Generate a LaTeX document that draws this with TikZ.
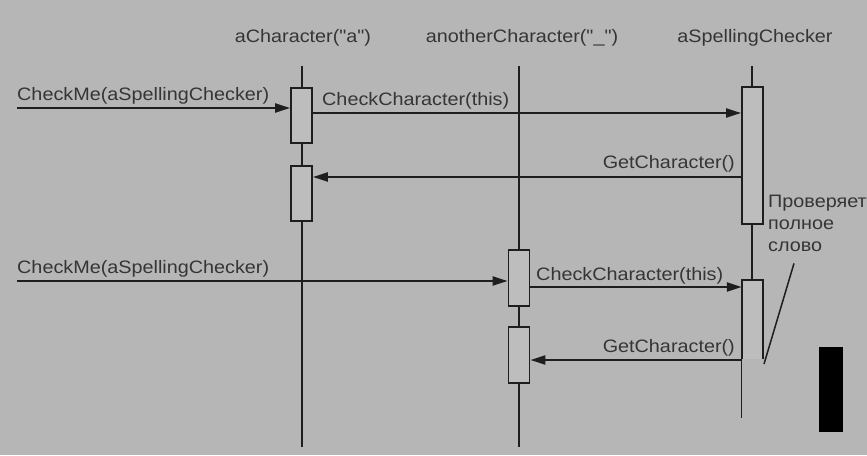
\documentclass[tikz,border=0pt]{standalone}
\usepackage{fontspec}
\newfontfamily\diafont{Liberation Sans}[FakeStretch=1.1]
\usetikzlibrary{arrows.meta}
\definecolor{paper}{RGB}{182,182,182}
\definecolor{ink}{RGB}{30,30,30}

\begin{document}
\begin{tikzpicture}[x=1pt, y=-1pt,
    lbl/.style={font=\diafont\fontsize{18}{22}\selectfont, text=ink!90, inner sep=0pt, align=left},
    lifeline/.style={draw=ink, line width=1.8pt},
    actbox/.style={rectangle, draw=ink, line width=1.8pt, fill=paper!90!white, minimum width=21pt, inner sep=0pt},
    openbox/.style={rectangle, fill=paper!90!white, minimum width=21pt, inner sep=0pt},
    msg/.style={draw=ink, line width=2.2pt, -{Triangle[length=15pt,width=9pt]}},
    leader/.style={draw=ink, line width=1.5pt}
]

    % --- Page ---
    \useasboundingbox (0,0) rectangle (867,455);
    \fill[paper] (0,0) rectangle (867,455);

    % --- Object Headers ---
    \node[lbl, anchor=base] (hA) at (303,42) {aCharacter("a")};
    \node[lbl, anchor=base] (hB) at (522,42) {anotherCharacter("\_")};
    \node[lbl, anchor=base] (hS) at (755,42) {aSpellingChecker};

    % --- Lifelines ---
    \coordinate (topA) at (302,66);  \coordinate (endA) at (302,447);
    \coordinate (topB) at (519,66);  \coordinate (endB) at (519,447);
    \coordinate (topS) at (752,66);  \coordinate (endS) at (752,280);
    \draw[lifeline] (topA) -- (endA);
    \draw[lifeline] (topB) -- (endB);
    \draw[lifeline] (topS) -- (endS);

    % --- Activation Boxes ---
    \node[actbox, minimum height=55pt] (a1) at (301.5,115.5) {};
    \node[actbox, minimum height=55pt] (a2) at (301.5,193.5) {};
    \node[actbox, minimum height=137pt] (s1) at (752.5,155.5) {};
    \node[actbox, minimum height=56pt] (b1) at (519,278) {};
    \node[actbox, minimum height=56pt] (b2) at (519,355) {};
    \node[openbox, minimum height=79pt] (s2) at (752.5,319.5) {};
    \draw[lifeline] (s2.south east) -- (s2.north east) -- (s2.north west) -- (s2.south west);
    \draw[draw=ink, line width=0.8pt] (s2.south west) -- ++(0,59);

    % --- Messages ---
    \coordinate (in1) at (17,108);
    \coordinate (in2) at (17,281);
    \coordinate (r1) at (0,113);
    \coordinate (r2) at (0,177);
    \coordinate (r3) at (0,287);
    \coordinate (r4) at (0,360);
    \draw[msg] (in1) -- (in1 -| a1.west);
    \draw[msg] (a1.east |- r1) -- (s1.west |- r1);
    \draw[msg] (s1.west |- r2) -- (a2.east |- r2);
    \draw[msg] (in2) -- (in2 -| b1.west);
    \draw[msg] (b1.east |- r3) -- (s2.west |- r3);
    \draw[msg] (s2.west |- r4) -- (b2.east |- r4);

    % --- Message Labels ---
    \node[lbl, anchor=base west] (m1) at (17,100) {CheckMe(aSpellingChecker)};
    \node[lbl, anchor=base west] (m2) at (322,105) {CheckCharacter(this)};
    \node[lbl, anchor=base east] (m3) at (735,168) {GetCharacter()};
    \node[lbl, anchor=base west] (m4) at (17,273) {CheckMe(aSpellingChecker)};
    \node[lbl, anchor=base west] (m5) at (536,280) {CheckCharacter(this)};
    \node[lbl, anchor=base east] (m6) at (735,352) {GetCharacter()};

    % --- Note ---
    \node[lbl, anchor=base west] (note) at (768,251) {Проверяет\\полное\\слово};
    \coordinate (leadend) at (764,364);
    \draw[leader] ([xshift=26pt,yshift=-12pt]note.south west) -- (leadend);

    % --- Scan Mark ---
    \fill[black] (819,347) rectangle (843,432);

\end{tikzpicture}
\end{document}
